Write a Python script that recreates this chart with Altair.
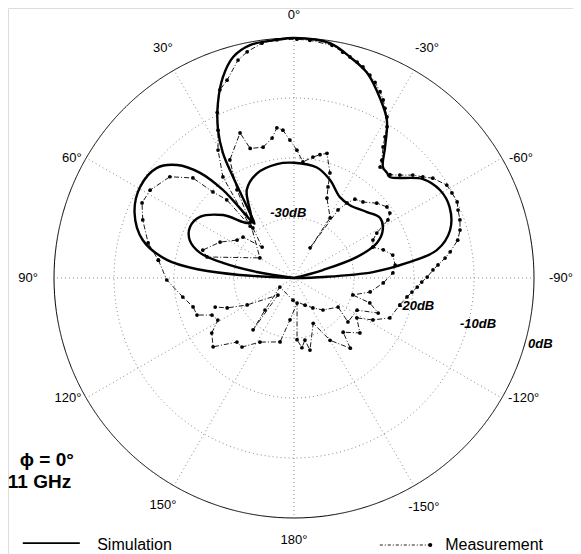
import altair as alt
import pandas as pd
import numpy as np

# ---------------- data (angle in degrees, positive = counter-clockwise from 0° at top; level in dB) ----
sim_co_ang = [-90, -88, -85.7, -82.4, -78.9, -73, -65.5, -58.9, -52.5, -43.5, -41.5, -38.7, -34.8,
              -30.5, -25.4, -19.6, -14.2, -8.7, 0, 4.1, 10.7, 15.4, 19.5, 23.5, 27.2, 29.6, 31.1,
              34.1, 36, 38.9, 41.8, 46, 51.2, 59.4, 67.8, 75.9, 81.9, 85, 86.8, 90]
sim_co_db = [-40, -35, -26.8, -21, -15.7, -12.8, -11.5, -11.6, -12.9, -16.8, -16.6, -16.3, -13.4,
             -9.5, -6.7, -3.7, -2.0, -0.4, 0, -0.2, -0.5, -1.8, -4.5, -8.2, -12.3, -16, -20.3,
             -26.9, -28.8, -21.2, -16.5, -12.9, -10.7, -10.2, -11.3, -14, -18.6, -24.3, -31, -40]

sim_x_ang = [-90, -74.6, -71.6, -67.1, -61.7, -55.1, -47.9, -37.5, -29.6, -20.2, -11.7, 0, 8.5,
             19.4, 28.1, 38.2, 48.4, 57, 63.9, 70, 75, 78, 80.8, 90]
sim_x_db = [-40, -35, -29, -25, -23.2, -22.5, -23.6, -24.7, -24.5, -22.6, -21.2, -20.8, -20.8,
            -21.5, -23.3, -28.2, -24.2, -21.3, -20.7, -21.5, -23.8, -27.9, -33.7, -40]

meas_co_ang = [82.5, 90.9, 99.7, 106, 110.9, 114.3, 118.9, 123.8, 130.4, 138.3, 143, 152, 167.7,
               174.6, -173, -177.2, -173.5, -170, -167.5, -157, -149.9, -141.3, -137.8, -129.8,
               -122.4, -118, -112.6, -104.3, -99.5, -96.8, -94.2, -91.8, -89.6, -86.7, -84.8,
               -82.5, -80.5, -77, -73.9, -70.7, -67.5, -65, -61.7, -58.7, -54.3, -51.9, -49.1,
               -45.8, -42.9, -37.8, -36.7, -34.2, -32.8, -31.6, -30, -28.2, -26.6, -24.8, -22.5,
               -20.5, -18.1, -16.3, -14.2, -12.2, -9.3, -3.8, -0.7, 4.1, 7.8, 11.7, 14.4, 18.7,
               21.5, 24.9, 27.2, 30.7, 35.1, 40.2, 40.7, 43.3, 45.3, 50.8, 58.6, 63.7, 69, 76.5, 82.5]
meas_co_db = [-17.2, -18.8, -21.2, -22.5, -22.7, -25, -25.5, -23.5, -22.3, -25.7, -25.6, -27.9, -29.1,
              -33, -35.8, -29.7, -28.3, -29.5, -27.7, -31.8, -28, -25, -27.8, -25.7,
              -27.6, -25.1, -22.7, -21.8, -20.9, -20.2, -19.4, -18.7, -17.8, -16.8, -15.9,
              -14.6, -13.6, -12, -11.2, -10.7, -10.4, -10, -10.1, -10.2, -11.5, -12.7, -13.8,
              -15.4, -16.5, -16.6, -15.5, -13.6, -12, -10.4, -9, -7.9, -6.8, -5.8, -4.7,
              -3.9, -3, -2.5, -2, -1.5, -0.7, -0.3, -0.2, -0.2, -0.5, -1.5, -2.5, -5.2,
              -6.3, -9.6, -12.3, -15.2, -19.4, -28.7, -22.8, -20.3, -16.3, -13.3, -11.9, -11.75, -13, -15, -17.2]

meas_x_ang = [39.4, 45.9, 51.2, 56.3, 64.1, 73, 76.4, 59.5, 38.2, 32.9, 28.5, 20.4, 18.7, 13.3, 8.9,
              6.5, 4.3, 1.7, -1.3, -4.4, -8.9, -11.9, -14.8, -18.9, -20.5, -22.4, -31, -28.1, -32.9,
              -35.2, -37.7, -42.2, -47.9, -52.6, -55.9, -58.3, -61.5, -64.3, -68.6, -72.5, -76.9,
              -82.7, -87.1, -93.2, -100.4, -106.1, -108.2, -112.6, -117, -129.2, -123.4, -137.8,
              -147.7, -157.8, 177.4, 122.7, 137.8, 141.7, 136.7, 119.9, 114.1, 110.2]
meas_x_db = [-29.2, -32.6, -29.1, -28.6, -26.3, -24.1, -25.1, -33.4, -28.2, -22.5, -17.6, -14.2, -17.2,
             -17.6, -16.4, -14.8, -15.3, -17, -18.7, -20.6, -19.6, -19, -18.5, -21.5, -23.8, -25.6,
             -28.3, -34.3, -26.5, -24.7, -23.4, -22.9, -21.4, -20.5, -20.7, -21.6, -24.3, -25.4,
             -25.9, -24.4, -23.1, -23, -23.5, -25.1, -27.1, -29.8, -26.7, -24.8, -28.2, -28.4,
             -31.2, -32.8, -34.1, -35.1, -36.3, -37.2, -32.8, -29, -36.1, -31, -27.8, -26]

ring_db = [-30, -20, -10]
spoke_ang = [0, 30, 60, 90, 120, 150, 180, 210, 240, 270, 300, 330]
angle_text = ["0°", "30°", "60°", "90°", "120°", "150°", "180°", "-150°", "-120°", "-90°", "-60°", "-30°"]
angle_text_pos_ang = [0, 29.7, 61.6, 90, 118, 150, 180, -150.4, -117.6, -90, -62.1, -30]
angle_text_pos_r = [43.9, 44.1, 42.1, 44.3, 42.65, 43.7, 43.7, 43.8, 43.2, 44.5, 42.8, 44.3]
db_text = ["-30dB", "-20dB", "-10dB", "0dB"]
db_text_ang = [5, -103, -104, -105]
db_text_r = [10.85, 20.9, 31.6, 42.5]

FLOOR = -40.0  # centre of the plot

# ---------------- tables ----------------
def series(name, angs, dbs):
    return pd.DataFrame({"ang": angs, "db": dbs, "s": name, "i": range(len(angs))})

sim_df = pd.concat([series("co", sim_co_ang, sim_co_db), series("x", sim_x_ang, sim_x_db)])
meas_df = pd.concat([series("co", meas_co_ang, meas_co_db), series("x", meas_x_ang, meas_x_db)])

ring_steps = list(range(0, 362, 2))
ring_rows = []
for d in ring_db + [0]:
    for k, a in enumerate(ring_steps):
        ring_rows.append({"ang": a, "db": d, "s": str(d), "i": k})
ring_df = pd.DataFrame(ring_rows)

spoke_rows = []
for a in spoke_ang:
    spoke_rows.append({"ang": a, "db": FLOOR, "s": str(a), "i": 0})
    spoke_rows.append({"ang": a, "db": 0, "s": str(a), "i": 1})
spoke_df = pd.DataFrame(spoke_rows)

alab_df = pd.DataFrame({"ang": angle_text_pos_ang, "r": angle_text_pos_r, "t": angle_text})
dblab_df = pd.DataFrame({"ang": db_text_ang, "r": db_text_r, "t": db_text})

XD = [-47.667, 46.5]
YD = [-46.0, 45.0]
xs = alt.Scale(domain=XD, nice=False, zero=False)
ys = alt.Scale(domain=YD, nice=False, zero=False)

def polar(ch, rexpr="(datum.db + 40)"):
    return ch.transform_calculate(
        px=f"-{rexpr} * sin(datum.ang * PI / 180)",
        py=f"{rexpr} * cos(datum.ang * PI / 180)",
    )

def xy():
    return dict(x=alt.X("px:Q", scale=xs, axis=None), y=alt.Y("py:Q", scale=ys, axis=None))

rings = polar(alt.Chart(ring_df)).mark_line(strokeWidth=1).encode(
    **xy(), detail="s:N", order="i:Q",
    color=alt.condition("datum.db == 0", alt.value("black"), alt.value("#8a8a8a")),
    strokeDash=alt.condition("datum.db == 0", alt.value([1, 0]), alt.value([1, 3])),
    strokeWidth=alt.condition("datum.db == 0", alt.value(1.6), alt.value(1)),
)

spokes = polar(alt.Chart(spoke_df)).mark_line(color="#8a8a8a", strokeWidth=1, strokeDash=[1, 3]).encode(
    **xy(), detail="s:N", order="i:Q")

sim = polar(alt.Chart(sim_df)).mark_line(color="black", strokeWidth=2.4, interpolate="catmull-rom").encode(
    **xy(), detail="s:N", order="i:Q")

meas_line = polar(alt.Chart(meas_df)).mark_line(color="black", strokeWidth=0.9, strokeDash=[5, 2, 1, 2]).encode(
    **xy(), detail="s:N", order="i:Q")
meas_pts = polar(alt.Chart(meas_df)).mark_point(filled=True, color="black", size=14, opacity=1).encode(**xy())

alab = alt.Chart(alab_df).transform_calculate(
    px="-datum.r * sin(datum.ang * PI / 180)", py="datum.r * cos(datum.ang * PI / 180)"
).mark_text(font="Liberation Sans", fontSize=13, color="black").encode(**xy(), text="t:N")

dblab = alt.Chart(dblab_df).transform_calculate(
    px="-datum.r * sin(datum.ang * PI / 180)", py="datum.r * cos(datum.ang * PI / 180)"
).mark_text(font="Liberation Sans", fontSize=13, fontWeight="bold", fontStyle="italic", color="black").encode(
    **xy(), text="t:N")

# annotation (phi / frequency) and legend
note_df = pd.DataFrame({"t": ["ϕ = 0°", "11 GHz"], "px": [-45.7, -47.7], "py": [-30.3, -34.0]})
note = alt.Chart(note_df).mark_text(font="Liberation Sans", fontSize=19, fontWeight="bold", align="left",
                                    color="black").encode(**xy(), text="t:N")

leg_text_df = pd.DataFrame({"t": ["Simulation", "Measurement"], "px": [-32.8, 25.2], "py": [-44.5, -44.5]})
leg_text = alt.Chart(leg_text_df).mark_text(font="Liberation Sans", fontSize=16, align="left",
                                            color="black").encode(**xy(), text="t:N")
leg_sim_df = pd.DataFrame({"px": [-45.2, -35.7], "py": [-44.2, -44.2], "i": [0, 1]})
leg_sim = alt.Chart(leg_sim_df).mark_line(color="black", strokeWidth=1.8).encode(**xy(), order="i:Q")
leg_meas_df = pd.DataFrame({"px": [14.3, 22.7], "py": [-44.5, -44.5], "i": [0, 1]})
leg_meas = alt.Chart(leg_meas_df).mark_line(color="black", strokeWidth=0.9, strokeDash=[3, 2, 1, 2]).encode(
    **xy(), order="i:Q")
leg_meas_pt = alt.Chart(leg_meas_df.iloc[[1]]).mark_point(filled=True, color="black", size=18, opacity=1).encode(**xy())

chart = alt.layer(rings, spokes, sim, meas_line, meas_pts, alab, dblab, note, leg_text, leg_sim, leg_meas,
                  leg_meas_pt).properties(
    width=565, height=546, autosize=alt.AutoSizeParams(type="none"), padding=0
).configure_view(stroke=None).configure(background="white")

chart.save("out.html", embed_options={"renderer": "svg", "actions": False})
